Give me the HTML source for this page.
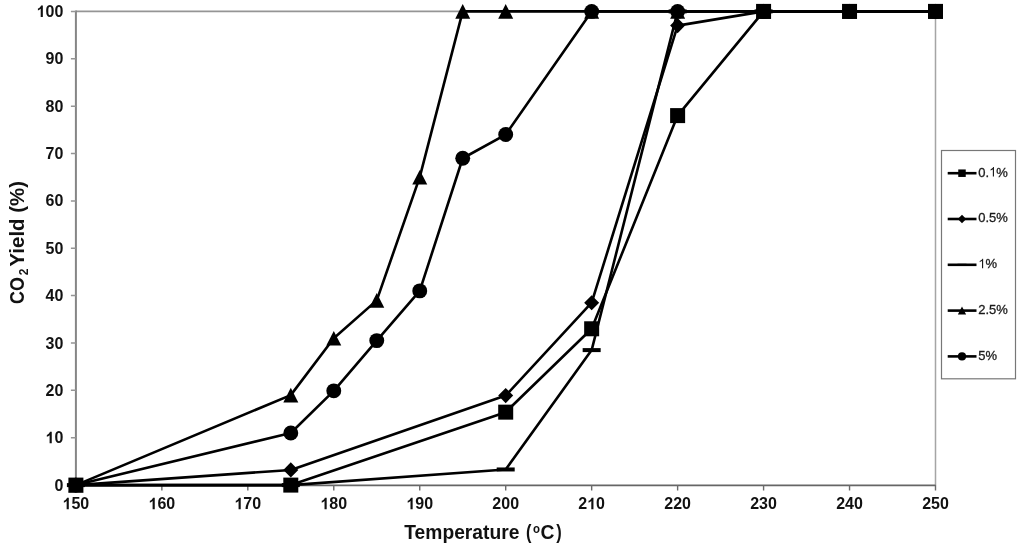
<!DOCTYPE html>
<html><head><meta charset="utf-8"><style>
html,body{margin:0;padding:0;background:#fff;width:1024px;height:548px;overflow:hidden;font-family:"Liberation Sans",sans-serif;}
svg{display:block;position:absolute;left:0;top:0;will-change:transform;}
</style></head><body>
<svg width="1024" height="548" viewBox="0 0 1024 548"><rect width="1024" height="548" fill="#fff"/><g><path d="M75.90 11.40H935.50" stroke="#959595" stroke-width="1.8"/>
<path d="M935.50 11.40V485.10" stroke="#a5a5a5" stroke-width="1.5"/>
<path d="M75.90 485.35H935.50" stroke="#666" stroke-width="1.6"/>
<path d="M75.90 10.50V485.10" stroke="#858585" stroke-width="2"/>
<path d="M70.90 485.10H75.90 M70.90 437.73H75.90 M70.90 390.36H75.90 M70.90 342.99H75.90 M70.90 295.62H75.90 M70.90 248.25H75.90 M70.90 200.88H75.90 M70.90 153.51H75.90 M70.90 106.14H75.90 M70.90 58.77H75.90 M70.90 11.40H75.90" stroke="#959595" stroke-width="1.5" fill="none"/>
<path d="M75.90 485.10V490.60 M161.86 485.10V490.60 M247.82 485.10V490.60 M333.78 485.10V490.60 M419.74 485.10V490.60 M505.70 485.10V490.60 M591.66 485.10V490.60 M677.62 485.10V490.60 M763.58 485.10V490.60 M849.54 485.10V490.60 M935.50 485.10V490.60" stroke="#6a6a6a" stroke-width="1.4" fill="none"/>
<path d="M75.90 485.10L290.80 485.10L505.70 412.15L591.66 328.78L677.62 115.61L763.58 11.40L849.54 11.40L935.50 11.40" fill="none" stroke="#000" stroke-width="2.6" stroke-linejoin="round"/>
<path d="M75.90 485.10L290.80 469.94L505.70 395.57L591.66 302.73L677.62 25.61L763.58 11.40L849.54 11.40L935.50 11.40" fill="none" stroke="#000" stroke-width="2.6" stroke-linejoin="round"/>
<path d="M75.90 485.10L290.80 485.10L505.70 469.47L591.66 350.10L677.62 11.40L763.58 11.40" fill="none" stroke="#000" stroke-width="2.6" stroke-linejoin="round"/>
<path d="M75.90 485.10L290.80 395.10L333.78 338.25L376.76 300.36L419.74 177.19L462.72 11.40L505.70 11.40L591.66 11.40L677.62 11.40L763.58 11.40L849.54 11.40L935.50 11.40" fill="none" stroke="#000" stroke-width="2.6" stroke-linejoin="round"/>
<path d="M75.90 485.10L290.80 432.99L333.78 390.83L376.76 340.62L419.74 290.88L462.72 158.25L505.70 134.56L591.66 11.40L677.62 11.40L763.58 11.40L849.54 11.40L935.50 11.40" fill="none" stroke="#000" stroke-width="2.6" stroke-linejoin="round"/>
<g fill="#000"><rect x="68.40" y="477.60" width="15.00" height="15.00"/><rect x="283.30" y="477.60" width="15.00" height="15.00"/><rect x="498.20" y="404.65" width="15.00" height="15.00"/><rect x="584.16" y="321.28" width="15.00" height="15.00"/><rect x="670.12" y="108.11" width="15.00" height="15.00"/><rect x="756.08" y="3.90" width="15.00" height="15.00"/><rect x="842.04" y="3.90" width="15.00" height="15.00"/><rect x="928.00" y="3.90" width="15.00" height="15.00"/></g>
<g fill="#000"><path d="M75.90 477.50L83.40 485.10L75.90 492.70L68.40 485.10Z"/><path d="M290.80 462.34L298.30 469.94L290.80 477.54L283.30 469.94Z"/><path d="M505.70 387.97L513.20 395.57L505.70 403.17L498.20 395.57Z"/><path d="M591.66 295.13L599.16 302.73L591.66 310.33L584.16 302.73Z"/><path d="M677.62 18.01L685.12 25.61L677.62 33.21L670.12 25.61Z"/><path d="M763.58 3.80L771.08 11.40L763.58 19.00L756.08 11.40Z"/><path d="M849.54 3.80L857.04 11.40L849.54 19.00L842.04 11.40Z"/><path d="M935.50 3.80L943.00 11.40L935.50 19.00L928.00 11.40Z"/></g>
<g fill="#000"><rect x="66.90" y="483.10" width="18.00" height="4.00"/><rect x="281.80" y="483.10" width="18.00" height="4.00"/><rect x="496.70" y="467.47" width="18.00" height="4.00"/><rect x="582.66" y="348.10" width="18.00" height="4.00"/><rect x="668.62" y="9.40" width="18.00" height="4.00"/><rect x="754.58" y="9.40" width="18.00" height="4.00"/></g>
<g fill="#000"><path d="M75.90 477.80L83.40 492.40L68.40 492.40Z"/><path d="M290.80 387.80L298.30 402.40L283.30 402.40Z"/><path d="M333.78 330.95L341.28 345.55L326.28 345.55Z"/><path d="M376.76 293.06L384.26 307.66L369.26 307.66Z"/><path d="M419.74 169.89L427.24 184.50L412.24 184.50Z"/><path d="M462.72 4.10L470.22 18.70L455.22 18.70Z"/><path d="M505.70 4.10L513.20 18.70L498.20 18.70Z"/><path d="M591.66 4.10L599.16 18.70L584.16 18.70Z"/><path d="M677.62 4.10L685.12 18.70L670.12 18.70Z"/><path d="M763.58 4.10L771.08 18.70L756.08 18.70Z"/><path d="M849.54 4.10L857.04 18.70L842.04 18.70Z"/><path d="M935.50 4.10L943.00 18.70L928.00 18.70Z"/></g>
<g fill="#000"><circle cx="75.90" cy="485.10" r="7.45"/><circle cx="290.80" cy="432.99" r="7.45"/><circle cx="333.78" cy="390.83" r="7.45"/><circle cx="376.76" cy="340.62" r="7.45"/><circle cx="419.74" cy="290.88" r="7.45"/><circle cx="462.72" cy="158.25" r="7.45"/><circle cx="505.70" cy="134.56" r="7.45"/><circle cx="591.66" cy="11.40" r="7.45"/><circle cx="677.62" cy="11.40" r="7.45"/><circle cx="763.58" cy="11.40" r="7.45"/><circle cx="849.54" cy="11.40" r="7.45"/><circle cx="935.50" cy="11.40" r="7.45"/></g>
<g><g transform="translate(0 490.70) scale(1 1.03) translate(0 -490.70)"><text x="54.40" y="490.70" font-family="Liberation Sans, sans-serif" font-weight="bold" font-size="16" fill="#111">0</text></g><g transform="translate(0 443.33) scale(1 1.03) translate(0 -443.33)"><path transform="translate(45.51 443.33) scale(0.00781 -0.00762)" d="M799 0L524 0L524 1036Q373 895 168 828L168 1077Q276 1112 402 1210Q528 1308 575 1466L799 1466Z" fill="#111"/><text x="54.40" y="443.33" font-family="Liberation Sans, sans-serif" font-weight="bold" font-size="16" fill="#111">0</text></g><g transform="translate(0 395.96) scale(1 1.03) translate(0 -395.96)"><text x="45.51" y="395.96" font-family="Liberation Sans, sans-serif" font-weight="bold" font-size="16" fill="#111">20</text></g><g transform="translate(0 348.59) scale(1 1.03) translate(0 -348.59)"><text x="45.51" y="348.59" font-family="Liberation Sans, sans-serif" font-weight="bold" font-size="16" fill="#111">30</text></g><g transform="translate(0 301.22) scale(1 1.03) translate(0 -301.22)"><text x="45.51" y="301.22" font-family="Liberation Sans, sans-serif" font-weight="bold" font-size="16" fill="#111">40</text></g><g transform="translate(0 253.85) scale(1 1.03) translate(0 -253.85)"><text x="45.51" y="253.85" font-family="Liberation Sans, sans-serif" font-weight="bold" font-size="16" fill="#111">50</text></g><g transform="translate(0 206.48) scale(1 1.03) translate(0 -206.48)"><text x="45.51" y="206.48" font-family="Liberation Sans, sans-serif" font-weight="bold" font-size="16" fill="#111">60</text></g><g transform="translate(0 159.11) scale(1 1.03) translate(0 -159.11)"><text x="45.51" y="159.11" font-family="Liberation Sans, sans-serif" font-weight="bold" font-size="16" fill="#111">70</text></g><g transform="translate(0 111.74) scale(1 1.03) translate(0 -111.74)"><text x="45.51" y="111.74" font-family="Liberation Sans, sans-serif" font-weight="bold" font-size="16" fill="#111">80</text></g><g transform="translate(0 64.37) scale(1 1.03) translate(0 -64.37)"><text x="45.51" y="64.37" font-family="Liberation Sans, sans-serif" font-weight="bold" font-size="16" fill="#111">90</text></g><g transform="translate(0 17.00) scale(1 1.03) translate(0 -17.00)"><path transform="translate(36.61 17.00) scale(0.00781 -0.00762)" d="M799 0L524 0L524 1036Q373 895 168 828L168 1077Q276 1112 402 1210Q528 1308 575 1466L799 1466Z" fill="#111"/><text x="45.51" y="17.00" font-family="Liberation Sans, sans-serif" font-weight="bold" font-size="16" fill="#111">00</text></g><g transform="translate(0 509.20) scale(1 1.03) translate(0 -509.20)"><path transform="translate(62.56 509.20) scale(0.00781 -0.00762)" d="M799 0L524 0L524 1036Q373 895 168 828L168 1077Q276 1112 402 1210Q528 1308 575 1466L799 1466Z" fill="#111"/><text x="71.45" y="509.20" font-family="Liberation Sans, sans-serif" font-weight="bold" font-size="16" fill="#111">50</text></g><g transform="translate(0 509.20) scale(1 1.03) translate(0 -509.20)"><path transform="translate(148.52 509.20) scale(0.00781 -0.00762)" d="M799 0L524 0L524 1036Q373 895 168 828L168 1077Q276 1112 402 1210Q528 1308 575 1466L799 1466Z" fill="#111"/><text x="157.41" y="509.20" font-family="Liberation Sans, sans-serif" font-weight="bold" font-size="16" fill="#111">60</text></g><g transform="translate(0 509.20) scale(1 1.03) translate(0 -509.20)"><path transform="translate(234.48 509.20) scale(0.00781 -0.00762)" d="M799 0L524 0L524 1036Q373 895 168 828L168 1077Q276 1112 402 1210Q528 1308 575 1466L799 1466Z" fill="#111"/><text x="243.37" y="509.20" font-family="Liberation Sans, sans-serif" font-weight="bold" font-size="16" fill="#111">70</text></g><g transform="translate(0 509.20) scale(1 1.03) translate(0 -509.20)"><path transform="translate(320.44 509.20) scale(0.00781 -0.00762)" d="M799 0L524 0L524 1036Q373 895 168 828L168 1077Q276 1112 402 1210Q528 1308 575 1466L799 1466Z" fill="#111"/><text x="329.33" y="509.20" font-family="Liberation Sans, sans-serif" font-weight="bold" font-size="16" fill="#111">80</text></g><g transform="translate(0 509.20) scale(1 1.03) translate(0 -509.20)"><path transform="translate(406.40 509.20) scale(0.00781 -0.00762)" d="M799 0L524 0L524 1036Q373 895 168 828L168 1077Q276 1112 402 1210Q528 1308 575 1466L799 1466Z" fill="#111"/><text x="415.29" y="509.20" font-family="Liberation Sans, sans-serif" font-weight="bold" font-size="16" fill="#111">90</text></g><g transform="translate(0 509.20) scale(1 1.03) translate(0 -509.20)"><text x="492.36" y="509.20" font-family="Liberation Sans, sans-serif" font-weight="bold" font-size="16" fill="#111">200</text></g><g transform="translate(0 509.20) scale(1 1.03) translate(0 -509.20)"><text x="578.32" y="509.20" font-family="Liberation Sans, sans-serif" font-weight="bold" font-size="16" fill="#111">2</text><path transform="translate(587.21 509.20) scale(0.00781 -0.00762)" d="M799 0L524 0L524 1036Q373 895 168 828L168 1077Q276 1112 402 1210Q528 1308 575 1466L799 1466Z" fill="#111"/><text x="596.11" y="509.20" font-family="Liberation Sans, sans-serif" font-weight="bold" font-size="16" fill="#111">0</text></g><g transform="translate(0 509.20) scale(1 1.03) translate(0 -509.20)"><text x="664.28" y="509.20" font-family="Liberation Sans, sans-serif" font-weight="bold" font-size="16" fill="#111">220</text></g><g transform="translate(0 509.20) scale(1 1.03) translate(0 -509.20)"><text x="750.24" y="509.20" font-family="Liberation Sans, sans-serif" font-weight="bold" font-size="16" fill="#111">230</text></g><g transform="translate(0 509.20) scale(1 1.03) translate(0 -509.20)"><text x="836.20" y="509.20" font-family="Liberation Sans, sans-serif" font-weight="bold" font-size="16" fill="#111">240</text></g><g transform="translate(0 509.20) scale(1 1.03) translate(0 -509.20)"><text x="922.16" y="509.20" font-family="Liberation Sans, sans-serif" font-weight="bold" font-size="16" fill="#111">250</text></g></g>
<text x="404.29" y="538.6" font-family="Liberation Sans, sans-serif" font-weight="bold" fill="#111" font-size="19.3" textLength="115.09" lengthAdjust="spacingAndGlyphs">Temperature</text>
<text transform="translate(526.02 538.6) scale(0.85 1)" font-family="Liberation Sans, sans-serif" font-weight="bold" fill="#111" font-size="19.3">(</text>
<text transform="translate(532.91 532.6) scale(0.88 1)" font-family="Liberation Sans, sans-serif" font-weight="bold" fill="#111" font-size="13">o</text>
<text transform="translate(540.60 538.6) scale(1.0 1)" font-family="Liberation Sans, sans-serif" font-weight="bold" fill="#111" font-size="19.3">C</text>
<text transform="translate(556.22 538.6) scale(0.85 1)" font-family="Liberation Sans, sans-serif" font-weight="bold" fill="#111" font-size="19.3">)</text>
<g transform="translate(23.9 305.0) rotate(-90)"><text x="1.06" y="0" font-family="Liberation Sans, sans-serif" font-weight="bold" fill="#111" font-size="19.3" textLength="26.89" lengthAdjust="spacingAndGlyphs">CO</text><text x="29.88" y="3.6" font-family="Liberation Sans, sans-serif" font-weight="bold" fill="#111" font-size="12">2</text><text x="38.49" y="0" font-family="Liberation Sans, sans-serif" font-weight="bold" fill="#111" font-size="19.3" textLength="85.47" lengthAdjust="spacingAndGlyphs"> Yield (%)</text></g>
<rect x="941.5" y="150.5" width="74.0" height="228.3" fill="#fff" stroke="#777" stroke-width="1.2"/>
<path d="M947.7 173.20H976.5" stroke="#000" stroke-width="2.6"/>
<g fill="#000"><rect x="958.25" y="169.45" width="7.50" height="7.50"/></g>
<g stroke="#1a1a1a" stroke-width="0.3"><g transform="translate(0 176.60) scale(1 1.05) translate(0 -176.60)"><text x="978.30" y="176.60" font-family="Liberation Sans, sans-serif" font-size="13" fill="#1a1a1a">0.</text><path transform="translate(989.14 176.60) scale(0.00635 -0.00619)" d="M763 0L583 0L583 1147Q518 1085 412 1023Q306 961 222 930L222 1104Q373 1175 486 1276Q599 1377 646 1472L763 1472Z" fill="#1a1a1a"/><text x="996.37" y="176.60" font-family="Liberation Sans, sans-serif" font-size="13" fill="#1a1a1a">%</text></g></g>
<path d="M947.7 219.00H976.5" stroke="#000" stroke-width="2.6"/>
<g fill="#000"><path d="M962.00 214.74L966.20 219.00L962.00 223.26L957.80 219.00Z"/></g>
<g stroke="#1a1a1a" stroke-width="0.3"><g transform="translate(0 222.40) scale(1 1.05) translate(0 -222.40)"><text x="978.30" y="222.40" font-family="Liberation Sans, sans-serif" font-size="13" fill="#1a1a1a">0.5%</text></g></g>
<path d="M947.7 264.80H976.5" stroke="#000" stroke-width="2.6"/>
<g fill="#000"><rect x="957.50" y="263.80" width="9.00" height="2.00"/></g>
<g stroke="#1a1a1a" stroke-width="0.3"><g transform="translate(0 268.20) scale(1 1.05) translate(0 -268.20)"><path transform="translate(978.30 268.20) scale(0.00635 -0.00619)" d="M763 0L583 0L583 1147Q518 1085 412 1023Q306 961 222 930L222 1104Q373 1175 486 1276Q599 1377 646 1472L763 1472Z" fill="#1a1a1a"/><text x="985.53" y="268.20" font-family="Liberation Sans, sans-serif" font-size="13" fill="#1a1a1a">%</text></g></g>
<path d="M947.7 310.60H976.5" stroke="#000" stroke-width="2.6"/>
<g fill="#000"><path d="M962.00 306.58L966.12 314.61L957.88 314.61Z"/></g>
<g stroke="#1a1a1a" stroke-width="0.3"><g transform="translate(0 314.00) scale(1 1.05) translate(0 -314.00)"><text x="978.30" y="314.00" font-family="Liberation Sans, sans-serif" font-size="13" fill="#1a1a1a">2.5%</text></g></g>
<path d="M947.7 356.40H976.5" stroke="#000" stroke-width="2.6"/>
<g fill="#000"><circle cx="962.00" cy="356.40" r="4.10"/></g>
<g stroke="#1a1a1a" stroke-width="0.3"><g transform="translate(0 359.80) scale(1 1.05) translate(0 -359.80)"><text x="978.30" y="359.80" font-family="Liberation Sans, sans-serif" font-size="13" fill="#1a1a1a">5%</text></g></g></g></svg>
</body></html>
